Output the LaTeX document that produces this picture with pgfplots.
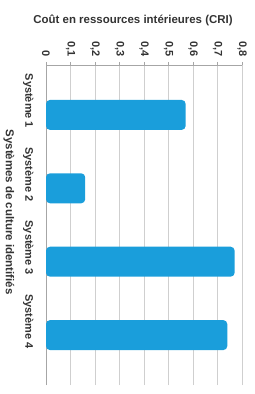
\documentclass[border=0pt]{standalone}
\usepackage{pgfplots}
\pgfplotsset{compat=1.18}
\usepackage{fontspec}
\setmainfont{Liberation Sans}
\definecolor{barblue}{HTML}{1A9EDB}
\definecolor{txt}{HTML}{333333}
\definecolor{gridc}{HTML}{CFCFCF}
\definecolor{axc}{HTML}{A6A6A6}
\begin{document}
\begin{tikzpicture}
\begin{axis}[
  scale only axis,
  width=196bp, height=320bp,
  xmin=0, xmax=0.8,
  ymin=0.32, ymax=4.68,
  xbar, bar width=30bp,
  axis x line*=top, axis y line*=left,
  axis line style={draw=axc, -},
  xtick={0,0.1,...,0.8},
  xticklabel style={yshift=2bp, rotate=-90, anchor=east, font=\bfseries\fontsize{11}{13}\selectfont, text=txt, /pgf/number format/.cd, fixed, use comma, precision=1},
  /pgf/number format/assume math mode=true,
  tick align=outside, major tick length=3bp,
  xtick style={draw=axc},
  ytick={1.19,2.19,3.19,4.19},
  yticklabels={Système 4,Système 3,Système 2,Système 1},
  ytick style={draw=none},
  yticklabel style={xshift=-6bp, rotate=-90, anchor=north, font=\bfseries\fontsize{11}{13}\selectfont, text=txt},
  xmajorgrids, major grid style={draw=gridc, line width=0.6pt},
  xlabel={Coût en ressources intérieures (CRI)},
  ylabel={Systèmes de culture identifiés},
  every axis x label/.style={at={(axis description cs:0.444,1)}, yshift=45bp, anchor=center, font=\bfseries\fontsize{11.5}{13}\selectfont, text=txt},
  every axis y label/.style={at={(axis description cs:0,0.54)}, xshift=-37bp, rotate=-90, anchor=center, font=\bfseries\fontsize{11.5}{13}\selectfont, text=txt},
]
\addplot[fill=barblue, draw=none, rounded corners=4bp] coordinates {(0.74,1) (0.77,2) (0.16,3) (0.57,4)};
\end{axis}
\pgfresetboundingbox
\path ([shift={(-46bp,65bp)}]current axis.north west) rectangle ([shift={(13bp,-9bp)}]current axis.south east);
\end{tikzpicture}
\end{document}
